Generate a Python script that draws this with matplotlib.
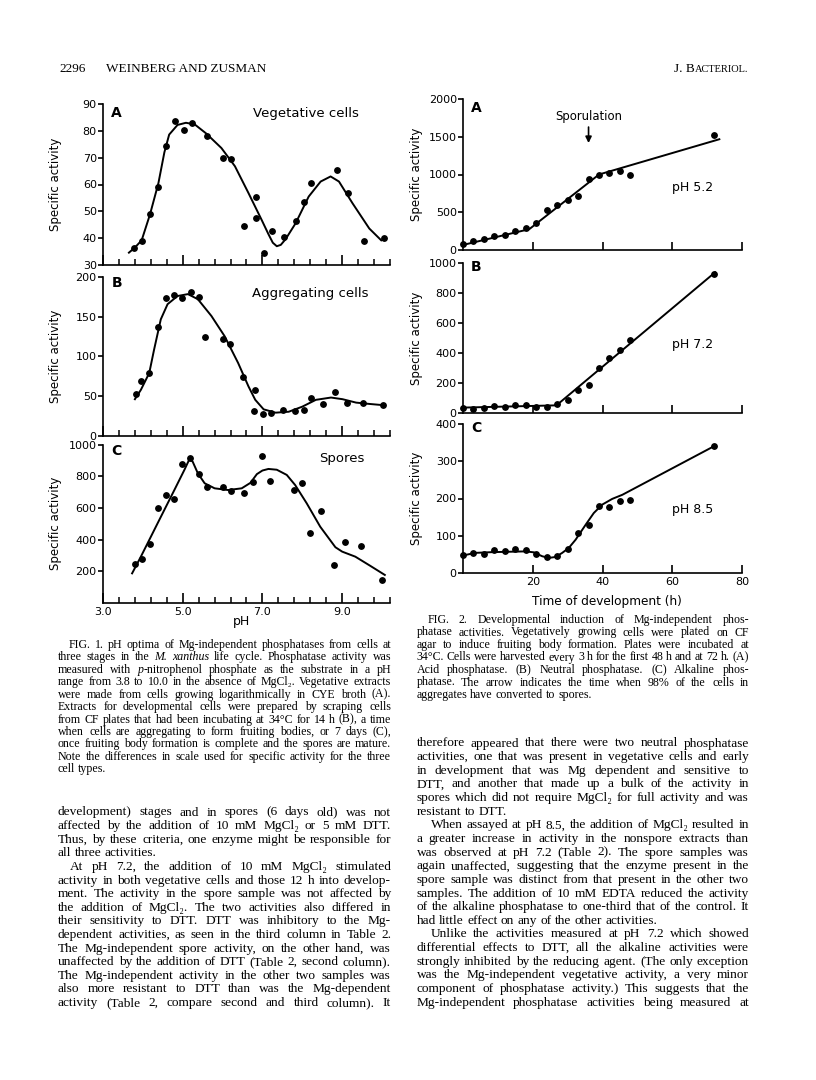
import numpy as np
import matplotlib
matplotlib.use("Agg")
import matplotlib.pyplot as plt

W, H = 816, 1080   # page size in pixels

# ---------------- Fig. 1: pH optima ----------------
ph_veg = [3.78, 3.97, 4.18, 4.39, 4.59, 4.81, 5.02, 5.23, 5.60, 6.00, 6.22, 6.54,
          6.83, 6.85, 7.04, 7.24, 7.55, 7.84, 8.05, 8.23, 8.86, 9.15, 9.56, 10.06]
act_veg = [36.4, 38.9, 48.9, 59.0, 74.5, 83.7, 80.2, 83.0, 78.1, 69.9, 69.5, 44.7,
           55.4, 47.5, 34.6, 42.6, 40.6, 46.4, 53.5, 60.5, 65.5, 56.8, 39.0, 39.9]
ph_veg_fit = [3.65, 3.80, 3.97, 4.18, 4.39, 4.54, 4.66, 4.87, 5.08, 5.30, 5.59, 5.97,
              6.31, 6.65, 6.98, 7.15, 7.26, 7.36, 7.46, 7.58, 7.83, 8.16, 8.46, 8.71,
              8.92, 9.26, 9.68, 9.98]
act_veg_fit = [34.6, 36.5, 39.2, 48.9, 60.5, 72.0, 78.6, 82.2, 83.0, 82.4, 79.0, 73.6,
               66.8, 56.8, 46.8, 41.5, 38.3, 37.0, 37.5, 39.6, 45.5, 55.5, 61.1, 63.0,
               61.1, 53.0, 43.6, 39.2]

ph_agg = [3.83, 3.96, 4.16, 4.37, 4.58, 4.79, 4.99, 5.21, 5.40, 5.57, 6.00, 6.19, 6.50,
          6.81, 6.80, 7.01, 7.21, 7.51, 7.82, 8.03, 8.22, 8.52, 8.82, 9.12, 9.53, 10.02]
act_agg = [52.5, 69, 79, 137, 174, 177, 173, 180.5, 175, 124.6, 121.6, 115.7, 73.3,
           56.8, 31, 27.5, 28, 32.2, 31, 32.6, 47.5, 40.3, 54.7, 40.7, 40.7, 38.6]
ph_agg_fit = [3.80, 3.95, 4.16, 4.28, 4.45, 4.62, 4.87, 5.13, 5.38, 5.72, 6.05, 6.39,
              6.65, 6.82, 7.03, 7.33, 7.66, 8.00, 8.34, 8.72, 9.01, 9.35, 9.69, 10.07]
act_agg_fit = [45.8, 57.6, 78.8, 108, 146.6, 165.7, 176, 178.4, 172, 150.8, 125.4, 91.5,
               61.9, 45, 33, 28.8, 30, 36.4, 45, 47.9, 45.8, 41.5, 39.8, 38.1]

ph_spo = [3.80, 3.97, 4.17, 4.38, 4.58, 4.77, 4.99, 5.19, 5.40, 5.61, 6.00, 6.21,
          6.53, 6.77, 6.99, 7.20, 7.79, 7.99, 8.19, 8.48, 8.80, 9.08, 9.48, 10.00]
act_spo = [242, 278, 371, 598, 680, 657, 877, 915, 814, 733, 733, 710,
           697, 763, 930, 771, 714, 759, 441, 581, 240, 384, 357, 143]
ph_spo_fit = [3.73, 3.95, 4.37, 4.79, 5.04, 5.17, 5.25, 5.38, 5.55, 5.80, 6.14, 6.48,
              6.70, 6.86, 7.00, 7.15, 7.36, 7.61, 7.82, 8.11, 8.45, 8.83, 9.00, 9.33,
              9.71, 10.07]
act_spo_fit = [185, 291, 503, 714, 841, 911, 894, 820, 757, 725, 714, 725,
               760, 815, 838, 848, 843, 810, 746, 630, 481, 351, 323, 291,
               232, 175]

# ---------------- Fig. 2: developmental induction ----------------
hours = [0, 3, 6, 9, 12, 15, 18, 21, 24, 27, 30, 33, 36, 39, 42, 45, 48, 72]
acid = [76, 120, 151, 187, 204, 249, 289, 364, 533, 596, 667, 716, 942, 996, 1018, 1044, 991, 1529]
neutral = [31, 27, 33, 44, 38, 51, 51, 42, 40, 62, 87, 156, 189, 300, 367, 420, 489, 924]
alkaline = [48, 55, 51, 63, 58, 64, 61, 52, 44, 46, 64, 107, 130, 179, 176, 193, 195, 342]

acid_fit_h = [0, 19, 39, 73.5]
acid_fit = [67, 276, 1000, 1467]
neutral_fit_h = [0, 26.8, 72.3]
neutral_fit = [36, 51, 938]
alk_fit_h = [0, 3.5, 8.3, 17.9, 20.3, 22.7, 24.6, 26.5, 28.4, 30.3, 32.3, 35.2, 37.5,
             39.9, 42.8, 45.7, 72.3]
alk_fit = [47, 54, 56, 58, 55.5, 45, 40.5, 43, 53.7, 67, 89.5, 130, 161,
           183.5, 199, 210, 342]

fig = plt.figure(figsize=(W / 100, H / 100), dpi=100)
plt.rcParams['font.family'] = 'DejaVu Sans'
SERIF = ['Liberation Serif', 'DejaVu Serif']

# page overlay in pixel units (y down)
page = fig.add_axes([0, 0, 1, 1])
page.set_xlim(0, W)
page.set_ylim(H, 0)
page.axis('off')
renderer = fig.canvas.get_renderer()


def px_axes(x0, y0, x1, y1):
    ax = fig.add_axes([x0 / W, 1 - y1 / H, (x1 - x0) / W, (y1 - y0) / H])
    ax.patch.set_visible(False)
    for s in ('top', 'right'):
        ax.spines[s].set_visible(False)
    for s in ('left', 'bottom'):
        ax.spines[s].set_linewidth(1.2)
    ax.tick_params(axis='y', direction='out', length=3.5, width=1.2, pad=1, labelsize=8)
    ax.tick_params(axis='x', which='major', direction='in', length=7, width=1.2, pad=3, labelsize=8)
    ax.tick_params(axis='x', which='minor', direction='in', length=4, width=1.1)
    return ax


def dots_and_fit(ax, x, y, fx, fy):
    ax.plot(fx, fy, color='k', lw=1.4, clip_on=False)
    ax.plot(x, y, 'o', color='k', ms=3.9, clip_on=False)


# ---- Fig 1 panels ----
f1 = [px_axes(103, 104, 390, 265), px_axes(103, 277, 390, 435.5), px_axes(103, 445, 390, 602.5)]
dots_and_fit(f1[0], ph_veg, act_veg, ph_veg_fit, act_veg_fit)
dots_and_fit(f1[1], ph_agg, act_agg, ph_agg_fit, act_agg_fit)
dots_and_fit(f1[2], ph_spo, act_spo, ph_spo_fit, act_spo_fit)
f1[0].set_ylim(30, 90)
f1[0].set_yticks(range(30, 91, 10))
f1[1].set_ylim(0, 200)
f1[1].set_yticks([0, 50, 100, 150, 200])
f1[2].set_ylim(0, 1000)
f1[2].set_yticks([200, 400, 600, 800, 1000])
for i, ax in enumerate(f1):
    ax.set_xlim(3.0, 10.2)
    ax.set_xticks([3.0, 5.0, 7.0, 9.0])
    ax.set_xticks(np.round(np.arange(3.0, 10.25, 0.4), 1), minor=True)
    if i < 2:
        ax.set_xticklabels([])
    else:
        ax.set_xticklabels(['3.0', '5.0', '7.0', '9.0'])
    ax.set_ylabel('Specific activity', fontsize=8.5)
    ax.yaxis.set_label_coords(-0.144, 0.5)

# ---- Fig 2 panels ----
f2 = [px_axes(463, 99, 742, 250), px_axes(463, 263, 742, 413), px_axes(463, 424, 742, 573)]
dots_and_fit(f2[0], hours, acid, acid_fit_h, acid_fit)
dots_and_fit(f2[1], hours, neutral, neutral_fit_h, neutral_fit)
dots_and_fit(f2[2], hours, alkaline, alk_fit_h, alk_fit)
f2[0].set_ylim(0, 2000)
f2[0].set_yticks([0, 500, 1000, 1500, 2000])
f2[1].set_ylim(0, 1000)
f2[1].set_yticks(range(0, 1001, 200))
f2[2].set_ylim(0, 400)
f2[2].set_yticks(range(0, 401, 100))
for i, ax in enumerate(f2):
    ax.set_xlim(0, 80)
    ax.set_xticks([20, 40, 60, 80])
    ax.tick_params(axis='x', length=6)
    if i < 2:
        ax.set_xticklabels([])
    ax.set_ylabel('Specific activity', fontsize=8.5)
    ax.yaxis.set_label_coords(-0.143, 0.5)

f2[0].annotate('', xy=(36, 1380), xytext=(36, 1665),
               arrowprops=dict(arrowstyle='-|>', color='k', lw=1.2, mutation_scale=9))
f2[0].text(36, 1770, 'Sporulation', ha='center', va='center', fontsize=8.4, clip_on=False)

# chart labels (page pixel coordinates)
chart_txt = [
    (116.7, 113.3, 'A', 10, 'bold'), (305.7, 113.3, 'Vegetative cells', 9.5, 'normal'),
    (116.7, 283.3, 'B', 10, 'bold'), (310, 293.3, 'Aggregating cells', 9.5, 'normal'),
    (116.7, 451, 'C', 10, 'bold'), (341.7, 458.3, 'Spores', 9.5, 'normal'),
    (241.7, 621.7, 'pH', 9, 'normal'),
    (476.7, 108.3, 'A', 10, 'bold'), (475.7, 266.7, 'B', 10, 'bold'), (476.7, 428.3, 'C', 10, 'bold'),
    (693, 187.7, 'pH 5.2', 9, 'normal'), (693, 344.3, 'pH 7.2', 9, 'normal'),
    (692.7, 510, 'pH 8.5', 9, 'normal'),
    (607, 601.7, 'Time of development (h)', 8.7, 'normal'),
]
for x, y, s, fs, wt in chart_txt:
    page.text(x, y, s, ha='center', va='center', fontsize=fs, fontweight=wt)

# ---------------- page header ----------------
page.text(59, 72, '2296', fontsize=9.5, family=SERIF, va='baseline')
page.text(106, 72, 'WEINBERG AND ZUSMAN', fontsize=9.5, family=SERIF, va='baseline')
tail = page.text(748, 72, 'ACTERIOL.', fontsize=7.5, family=SERIF, va='baseline', ha='right')
tail_w = tail.get_window_extent(renderer).width
page.text(748 - tail_w, 72, 'J. B', fontsize=9.5, family=SERIF, va='baseline', ha='right')

cap1 = [(True, True, [
    "FIG. 1. pH optima of Mg-independent phosphatases from cells at",
    "three stages in the _M._ _xanthus_ life cycle. Phosphatase activity was",
    "measured with _p_-nitrophenol phosphate as the substrate in a pH",
    "range from 3.8 to 10.0 in the absence of MgCl₂. Vegetative extracts",
    "were made from cells growing logarithmically in CYE broth (A).",
    "Extracts for developmental cells were prepared by scraping cells",
    "from CF plates that had been incubating at 34°C for 14 h (B), a time",
    "when cells are aggregating to form fruiting bodies, or 7 days (C),",
    "once fruiting body formation is complete and the spores are mature.",
    "Note the differences in scale used for specific activity for the three",
    "cell types."])]

cap2 = [(True, True, [
    "FIG. 2. Developmental induction of Mg-independent phos-",
    "phatase activities. Vegetatively growing cells were plated on CF",
    "agar to induce fruiting body formation. Plates were incubated at",
    "34°C. Cells were harvested every 3 h for the first 48 h and at 72 h. (A)",
    "Acid phosphatase. (B) Neutral phosphatase. (C) Alkaline phos-",
    "phatase. The arrow indicates the time when 98% of the cells in",
    "aggregates have converted to spores."])]

body_left = [
    (False, True, [
        "development) stages and in spores (6 days old) was not",
        "affected by the addition of 10 mM MgCl₂ or 5 mM DTT.",
        "Thus, by these criteria, one enzyme might be responsible for",
        "all three activities."]),
    (True, False, [
        "At pH 7.2, the addition of 10 mM MgCl₂ stimulated",
        "activity in both vegetative cells and those 12 h into develop-",
        "ment. The activity in the spore sample was not affected by",
        "the addition of MgCl₂. The two activities also differed in",
        "their sensitivity to DTT. DTT was inhibitory to the Mg-",
        "dependent activities, as seen in the third column in Table 2.",
        "The Mg-independent spore activity, on the other hand, was",
        "unaffected by the addition of DTT (Table 2, second column).",
        "The Mg-independent activity in the other two samples was",
        "also more resistant to DTT than was the Mg-dependent",
        "activity (Table 2, compare second and third column). It"]),
]

body_right = [
    (False, True, [
        "therefore appeared that there were two neutral phosphatase",
        "activities, one that was present in vegetative cells and early",
        "in development that was Mg dependent and sensitive to",
        "DTT, and another that made up a bulk of the activity in",
        "spores which did not require MgCl₂ for full activity and was",
        "resistant to DTT."]),
    (True, True, [
        "When assayed at pH 8.5, the addition of MgCl₂ resulted in",
        "a greater increase in activity in the nonspore extracts than",
        "was observed at pH 7.2 (Table 2). The spore samples was",
        "again unaffected, suggesting that the enzyme present in the",
        "spore sample was distinct from that present in the other two",
        "samples. The addition of 10 mM EDTA reduced the activity",
        "of the alkaline phosphatase to one-third that of the control. It",
        "had little effect on any of the other activities."]),
    (True, False, [
        "Unlike the activities measured at pH 7.2 which showed",
        "differential effects to DTT, all the alkaline activities were",
        "strongly inhibited by the reducing agent. (The only exception",
        "was the Mg-independent vegetative activity, a very minor",
        "component of phosphatase activity.) This suggests that the",
        "Mg-independent phosphatase activities being measured at"]),
]


def make_words(line, y, size):
    # '_' toggles italics inside a word
    words = []
    for w in line.split():
        segs = []
        for i, part in enumerate(w.split('_')):
            if part:
                t = page.text(0, y, part, fontsize=size, family=SERIF,
                              style='italic' if i % 2 else 'normal', va='baseline')
                segs.append((t, t.get_window_extent(renderer).width))
        words.append(segs)
    return words


def put_line(x0, x1, y, line, size, justify, indent):
    start = x0 + indent
    while True:
        words = make_words(line, y, size)
        widths = [sum(wd for _, wd in segs) for segs in words]
        em = size * 100 / 72
        if sum(widths) + 0.12 * em * (len(words) - 1) <= x1 - start or size < 6:
            break
        for segs in words:
            for t, _ in segs:
                t.remove()
        size *= 0.985
    if justify and len(words) > 1:
        gap = (x1 - start - sum(widths)) / (len(words) - 1)
    else:
        gap = em * 0.25
    x = start
    for segs in words:
        for t, wd in segs:
            t.set_x(x)
            x += wd
        x += gap


def put_block(x0, x1, y0, step, paras, size, indent=12):
    y = y0
    for ind, ends, lines in paras:
        for k, line in enumerate(lines):
            last = ends and k == len(lines) - 1
            put_line(x0, x1, y, line, size, not last, indent if (ind and k == 0) else 0)
            y += step


put_block(58, 391, 648, 12.43, cap1, 8.6, indent=11)
put_block(416.5, 749, 623, 12.5, cap2, 8.6, indent=11)
put_block(58, 391, 815.5, 13.6, body_left, 9.6)
put_block(416.5, 749, 746.5, 13.64, body_right, 9.6, indent=14)

fig.savefig('out.png', dpi=100)
